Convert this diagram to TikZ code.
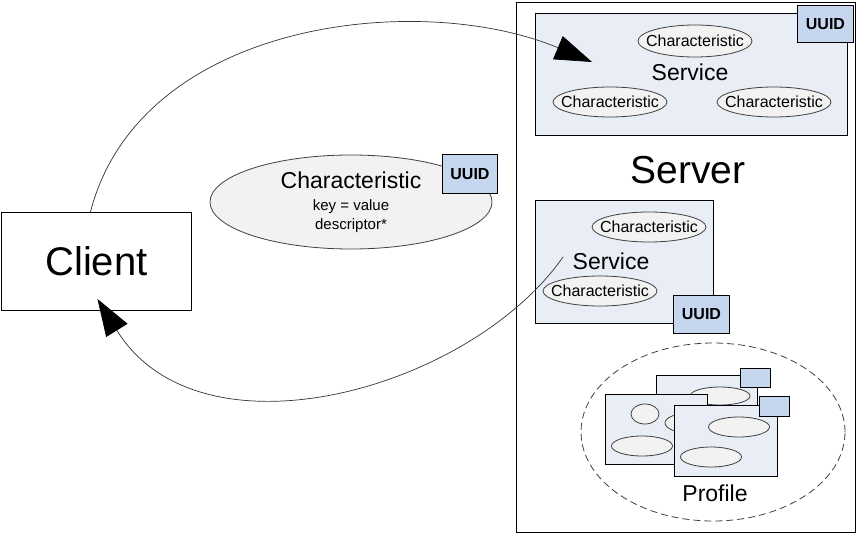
\documentclass[tikz,border=0pt]{standalone}
\usepackage{fontspec}
\setmainfont{Liberation Sans}
\usetikzlibrary{arrows.meta, shapes.geometric}
\definecolor{svcblue}{RGB}{232,237,246}
\definecolor{uuidblue}{RGB}{197,214,238}
\definecolor{chrgray}{RGB}{242,242,242}

\begin{document}
\begin{tikzpicture}[x=1pt, y=-1pt,
    box/.style={draw, line width=0.9pt, inner sep=0pt, anchor=north west},
    svc/.style={box, fill=svcblue},
    uuid/.style={box, fill=uuidblue, font=\fontsize{16}{18}\selectfont\bfseries},
    oval/.style={draw=black!75, line width=0.8pt, fill=chrgray, ellipse, inner sep=0pt},
    chr/.style={oval, minimum width=114pt, minimum height=30pt,
        label={[inner sep=0pt, font=\fontsize{16}{18}\selectfont]center:Characteristic}},
    blob/.style={oval, minimum width=61pt, minimum height=20pt},
    tag/.style={box, fill=uuidblue, minimum width=30pt, minimum height=20pt},
    lbl/.style={inner sep=0pt, font=\fontsize{23}{26}\selectfont},
    link/.style={draw=black!80, line width=0.7pt, -{Triangle[length=37pt, width=25pt, color=black]}}]
    % Page size
    \useasboundingbox (0,0) rectangle (858,535);

    % Client
    \node[box, minimum width=190pt, minimum height=98pt] (client) at (1,212) {};
    \node[lbl, font=\fontsize{40}{44}\selectfont] (clientlbl) at (client.center) {Client};

    % Server
    \node[box, minimum width=339pt, minimum height=530pt] (server) at (516,2) {};
    \node[lbl, font=\fontsize{39}{44}\selectfont] (serverlbl) at (688,170) {Server};

    % Service at the top
    \node[svc, minimum width=312pt, minimum height=122pt] (svctop) at (535,13) {};
    \node[uuid, minimum width=56pt, minimum height=37pt] (uuidtop) at (797,5) {UUID};
    \node[chr, minimum height=32pt] (chrtop) at (695,41) {};
    \node[chr] (chrtopl) at (610,102) {};
    \node[chr] (chrtopr) at (774,102) {};
    \node[lbl] (svctoplbl) at (690,72) {Service};

    % Service below
    \node[svc, minimum width=178pt, minimum height=123pt] (svclow) at (535,200) {};
    \node[chr] (chrlowa) at (649,227) {};
    \node[chr] (chrlowb) at (600,291) {};
    \node[lbl] (svclowlbl) at (611,261) {Service};
    \node[uuid, minimum width=56pt, minimum height=38pt] (uuidlow) at (673,295) {UUID};

    % Characteristic in the middle
    \node[oval, minimum width=282pt, minimum height=94pt, align=center,
          font=\fontsize{15}{19}\selectfont] (chrbig) at (351,202)
        {{\fontsize{23}{26}\selectfont Characteristic}\\[3pt]
         key = value\\
         descriptor*};
    \node[uuid, minimum width=55pt, minimum height=39pt] (uuidbig) at (442,154) {UUID};

    % Profile
    \node[draw=black!75, line width=0.8pt, dash pattern=on 7pt off 4pt, ellipse,
          minimum width=264pt, minimum height=178pt] (profile) at (713,432) {};
    \node[svc, minimum width=101pt, minimum height=45pt] (pageback) at (656,375) {};
    \node[blob, minimum width=60pt, minimum height=18pt] (blobback) at (720,396) {};
    \node[tag, minimum height=19pt] (tagback) at (740,368) {};
    \node[svc, minimum width=102pt, minimum height=70pt] (pageleft) at (605,394) {};
    \node[blob, minimum width=28pt] (blobla) at (645,414) {};
    \node[blob, minimum width=50pt] (bloblb) at (690,423) {};
    \node[blob] (bloblc) at (642,446) {};
    \node[svc, minimum width=103pt, minimum height=71pt] (pagefront) at (674,405) {};
    \node[blob] (blobfa) at (739,427) {};
    \node[blob] (blobfb) at (711,457) {};
    \node[tag] (tagfront) at (759,396) {};
    \node[lbl] (profilelbl) at (715,493) {Profile};

    % Requests and answers
    \coordinate (svcin) at (592,62);
    \coordinate (svcout) at (563,257);
    \draw[link] ([xshift=-6pt]client.north) .. controls (140,20) and (420,-10) .. (svcin);
    \draw[link] (svcout) .. controls (470,390) and (200,465) .. ([xshift=1pt,yshift=12pt]client.south);
\end{tikzpicture}
\end{document}
